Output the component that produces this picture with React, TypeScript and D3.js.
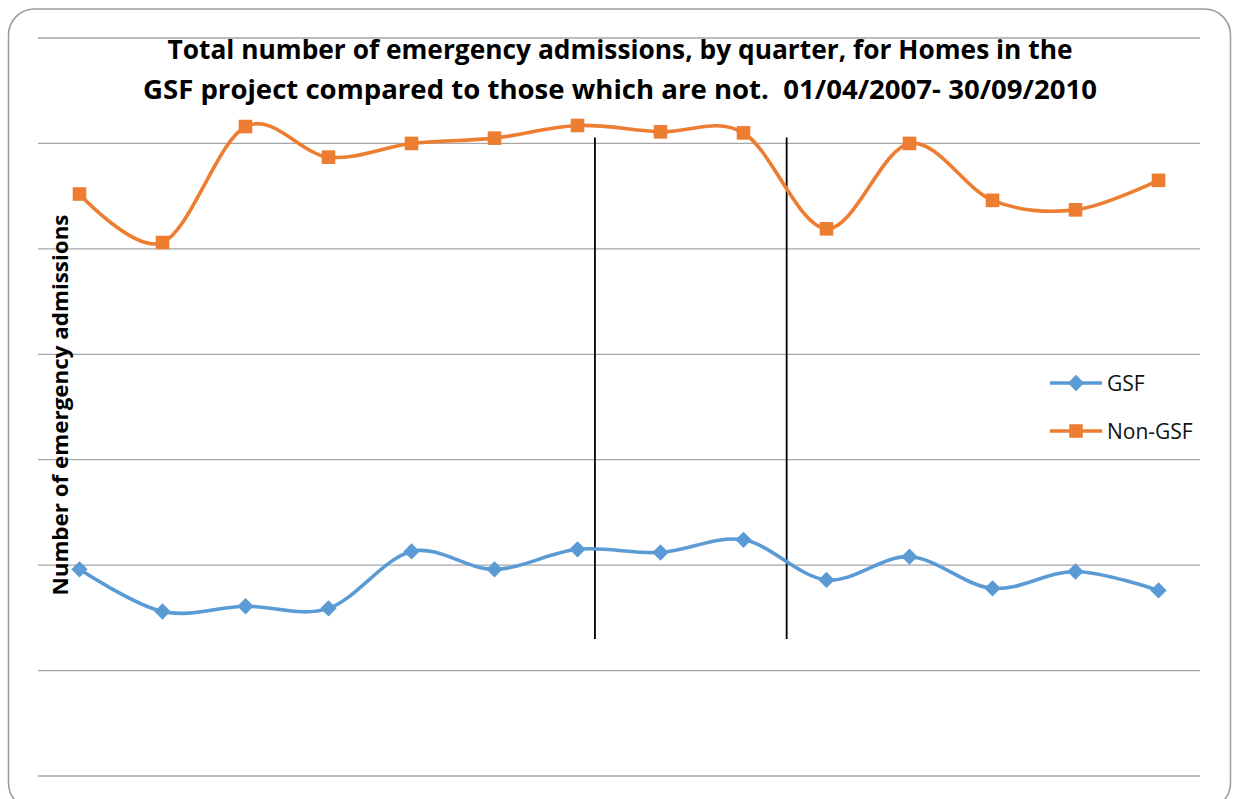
import React, { useEffect, useRef } from "react";
import * as d3 from "d3";

// quarters 01/04/2007 - 30/09/2010
const quarters = ["Q1", "Q2", "Q3", "Q4", "Q5", "Q6", "Q7", "Q8", "Q9", "Q10", "Q11", "Q12", "Q13", "Q14"];
const gsf = [196, 156, 161, 159, 213, 196, 215, 212, 224, 186, 208, 178, 194, 176];
const nonGsf = [552, 506, 616, 587, 600, 605, 617, 611, 610, 519, 600, 546, 537, 565];
const yTicks = [0, 100, 200, 300, 400, 500, 600, 700];
// dividers drawn at fractional quarter positions
const dividers = [6.21, 8.52];
const titleLines = [
  "Total number of emergency admissions, by quarter, for Homes in the",
  "GSF project compared to those which are not.\u00a0 01/04/2007- 30/09/2010",
];

const W = 1235;
const H = 799;
const margin = { top: 38, left: 38, right: 35, bottom: 23 };

export default function App() {
  const ref = useRef<SVGSVGElement | null>(null);

  useEffect(() => {
    const svg = d3.select(ref.current);
    svg.selectAll("*").remove();

    const iw = W - margin.left - margin.right;
    const ih = H - margin.top - margin.bottom;

    // outer rounded frame
    svg.append("rect")
      .attr("x", 8.5).attr("y", 9)
      .attr("width", 1222).attr("height", 800)
      .attr("rx", 26)
      .attr("fill", "white")
      .attr("stroke", "#9a9a9a")
      .attr("stroke-width", 1.5);

    const g = svg.append("g").attr("transform", `translate(${margin.left},${margin.top})`);

    const band = iw / quarters.length;
    const x = d3.scaleLinear()
      .domain([0, quarters.length - 1])
      .range([band / 2, iw - band / 2]);
    const y = d3.scaleLinear().domain([0, 700]).range([ih, 0]);

    // gridlines
    g.append("g")
      .selectAll("line")
      .data(yTicks)
      .enter()
      .append("line")
      .attr("x1", 0).attr("x2", iw)
      .attr("y1", d => y(d)).attr("y2", d => y(d))
      .attr("stroke", "#a6a6a6")
      .attr("stroke-width", 1.3);

    // vertical dividers
    g.append("g")
      .selectAll("line")
      .data(dividers)
      .enter()
      .append("line")
      .attr("x1", d => x(d)).attr("x2", d => x(d))
      .attr("y1", y(600) - 6).attr("y2", y(130))
      .attr("stroke", "black")
      .attr("stroke-width", 1.8);

    const line = d3.line<number>()
      .x((_, i) => x(i))
      .y(d => y(d))
      .curve(d3.curveCatmullRom.alpha(0));

    const series = [
      { name: "GSF", values: gsf, color: "#5B9BD5", symbol: d3.symbolDiamond2, size: 170 },
      { name: "Non-GSF", values: nonGsf, color: "#ED7D31", symbol: d3.symbolSquare, size: 185 },
    ];

    series.forEach(s => {
      g.append("path")
        .attr("d", line(s.values))
        .attr("fill", "none")
        .attr("stroke", s.color)
        .attr("stroke-width", 3.6);

      g.append("g")
        .selectAll("path")
        .data(s.values)
        .enter()
        .append("path")
        .attr("transform", (d, i) => `translate(${x(i)},${y(d)})`)
        .attr("d", d3.symbol().type(s.symbol).size(s.size)())
        .attr("fill", s.color);
    });

    // title
    const title = svg.append("text")
      .attr("text-anchor", "middle")
      .attr("font-family", "'Open Sans', sans-serif")
      .attr("font-weight", "bold")
      .attr("font-size", 27)
      .attr("fill", "black");
    title.append("tspan").attr("x", 620).attr("y", 59)
      .attr("textLength", 905).attr("lengthAdjust", "spacingAndGlyphs")
      .text(titleLines[0]);
    title.append("tspan").attr("x", 620).attr("y", 99)
      .attr("textLength", 954).attr("lengthAdjust", "spacingAndGlyphs")
      .text(titleLines[1]);

    // y axis title
    svg.append("text")
      .attr("transform", "translate(68,405) rotate(-90)")
      .attr("text-anchor", "middle")
      .attr("font-family", "'Open Sans', sans-serif")
      .attr("font-weight", "bold")
      .attr("font-size", 21)
      .attr("textLength", 381)
      .attr("lengthAdjust", "spacingAndGlyphs")
      .text("Number of emergency admissions");

    // legend
    const legend = svg.append("g").attr("transform", "translate(1050,383)");
    series.forEach((s, i) => {
      const lg = legend.append("g").attr("transform", `translate(0,${i * 48})`);
      lg.append("line")
        .attr("x1", 0).attr("x2", 52)
        .attr("stroke", s.color).attr("stroke-width", 3.6);
      lg.append("path")
        .attr("transform", "translate(26,0)")
        .attr("d", d3.symbol().type(s.symbol).size(s.size)())
        .attr("fill", s.color);
      lg.append("text")
        .attr("x", 57).attr("y", 8)
        .attr("font-family", "'Open Sans', sans-serif")
        .attr("font-size", 21)
        .attr("fill", "#111")
        .text(s.name);
    });
  }, []);

  return (
    <svg ref={ref} width={W} height={H}
      style={{ position: "absolute", left: 0, top: 0, overflow: "hidden", background: "white" }} />
  );
}
